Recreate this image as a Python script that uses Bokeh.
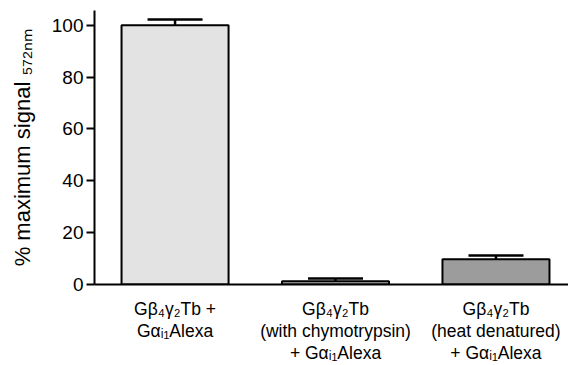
from bokeh.plotting import figure
from bokeh.models import Range1d, FixedTicker, Whisker, ColumnDataSource, TeeHead
from bokeh.embed import file_html
from bokeh.resources import INLINE

# ---- data ----
positions = [1, 2, 3]
values = [100.0, 1.3, 9.7]
errors_upper = [2.2, 1.0, 1.5]
bar_colors = ["#e3e3e3", "#b4b4b4", "#9c9c9c"]
cat_labels = [
    "Gβ₄γ₂Tb +\nGαᵢ₁Alexa",
    "Gβ₄γ₂Tb\n(with chymotrypsin)\n+ Gαᵢ₁Alexa",
    "Gβ₄γ₂Tb\n(heat denatured)\n+ Gαᵢ₁Alexa",
]
y_ticks = [0, 20, 40, 60, 80, 100]
y_label = "% maximum signal ₅₇₂ₙₘ"

FONT = "Liberation Sans"

p = figure(width=568, height=365, output_backend="svg", toolbar_location=None,
           x_range=Range1d(0.498, 3.452), y_range=Range1d(0, 105.7),
           min_border_left=94, min_border_right=0, min_border_top=10,
           min_border_bottom=79)
p.outline_line_color = None
p.grid.visible = False
p.background_fill_color = "white"

src = ColumnDataSource(dict(x=positions, top=values,
                            upper=[v + e for v, e in zip(values, errors_upper)],
                            color=bar_colors))

wh = Whisker(source=src, base="x", lower="top", upper="upper",
             line_color="black", line_width=2.5,
             upper_head=TeeHead(size=55, line_width=2.5, line_color="black"),
             lower_head=None)
p.add_layout(wh)

p.vbar(x="x", top="top", width=0.667, source=src, fill_color="color",
       line_color="black", line_width=2)

# y axis
p.yaxis.ticker = FixedTicker(ticks=y_ticks)
p.yaxis.major_tick_out = 8
p.yaxis.major_tick_in = 0
p.yaxis.minor_tick_line_color = None
p.yaxis.axis_line_width = 2
p.yaxis.major_tick_line_width = 2
p.yaxis.major_label_text_font = FONT
p.yaxis.major_label_text_font_size = "19px"
p.yaxis.major_label_text_color = "black"
p.yaxis.major_label_standoff = 3
p.yaxis.axis_label = y_label
p.yaxis.axis_label_text_font = FONT
p.yaxis.axis_label_text_font_size = "22px"
p.yaxis.axis_label_text_font_style = "normal"
p.yaxis.axis_label_text_color = "black"
p.yaxis.axis_label_standoff = 14

# x axis with category labels
p.xaxis.ticker = FixedTicker(ticks=positions)
p.xaxis.major_label_overrides = {pos: lab for pos, lab in zip(positions, cat_labels)}
p.xaxis.axis_line_width = 2
p.xaxis.major_tick_line_color = None
p.xaxis.minor_tick_line_color = None
p.xaxis.major_tick_out = 0
p.xaxis.major_label_text_font = FONT
p.xaxis.major_label_text_font_size = "17.5px"
p.xaxis.major_label_text_color = "black"
p.xaxis.major_label_text_line_height = 1.1
p.xaxis.major_label_standoff = 14

open("out.html", "w").write(file_html(p, INLINE))
